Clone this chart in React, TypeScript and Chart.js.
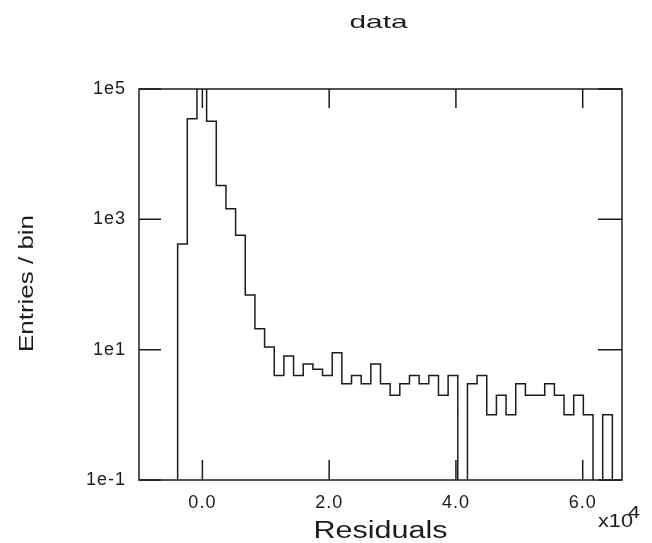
import React, { useEffect, useRef } from 'react';
import { Chart, registerables } from 'chart.js';

Chart.register(...registerables);

// ---- data ----
const X_MIN = -10000;
const X_MAX = 66200;
const counts = [
  0, 0, 0, 0, 420, 35000, 150000, 32000, 3300, 1450,
  570, 69, 21, 11, 4, 8, 4, 6, 5, 4,
  9, 3, 4, 3, 6, 3, 2, 3, 4, 3,
  4, 2, 4, 0, 3, 4, 1, 2, 1, 3,
  2, 2, 3, 2, 1, 2, 1, 0, 1, 0,
];
const xTickValues = [0, 20000, 40000, 60000];
const xTickLabels = ['0.0', '2.0', '4.0', '6.0'];
const yTickValues = [0.1, 10, 1000, 100000];
const yTickLabels = ['1e-1', '1e1', '1e3', '1e5'];
const Y_MIN = 0.1;
const Y_MAX = 100000;
const titleText = 'data';
const xTitle = 'Residuals';
const yTitle = 'Entries / bin';
const xExpBase = 'x10';
const xExpPower = '4';

const INK = '#1c1c1c';
const FONT = "'Liberation Sans', Arial, Helvetica, sans-serif";

function stretchText(
  ctx: CanvasRenderingContext2D,
  text: string,
  x: number,
  y: number,
  size: number,
  targetW: number,
  align: CanvasTextAlign,
  rotate = 0
) {
  ctx.save();
  ctx.font = `${size}px ${FONT}`;
  const w = ctx.measureText(text).width;
  const sx = targetW / w;
  ctx.translate(x, y);
  if (rotate) ctx.rotate(rotate);
  ctx.scale(sx, 1);
  ctx.textAlign = align;
  ctx.textBaseline = 'alphabetic';
  ctx.fillStyle = INK;
  ctx.fillText(text, 0, 0);
  ctx.restore();
}

const framePlugin = {
  id: 'frameTicks',
  beforeDraw(chart: any) {
    (chart.ctx as any).letterSpacing = '1px';
  },
  afterDatasetsDraw(chart: any) {
    const { ctx, chartArea: a, scales } = chart;
    ctx.save();
    ctx.strokeStyle = INK;
    ctx.lineWidth = 1.5;
    ctx.strokeRect(a.left, a.top, a.right - a.left, a.bottom - a.top);
    ctx.beginPath();
    scales.x.ticks.forEach((t: any) => {
      const px = scales.x.getPixelForValue(t.value);
      ctx.moveTo(px, a.bottom);
      ctx.lineTo(px, a.bottom - 20);
      ctx.moveTo(px, a.top);
      ctx.lineTo(px, a.top + 19);
    });
    scales.y.ticks.forEach((t: any) => {
      const py = scales.y.getPixelForValue(t.value);
      ctx.moveTo(a.left, py);
      ctx.lineTo(a.left + 22, py);
      ctx.moveTo(a.right, py);
      ctx.lineTo(a.right - 24, py);
    });
    ctx.stroke();
    ctx.restore();
  },
  afterDraw(chart: any) {
    const ctx = chart.ctx as CanvasRenderingContext2D;
    (ctx as any).letterSpacing = '0px';
    const a = chart.chartArea;
    const cx = (a.left + a.right) / 2;
    stretchText(ctx, titleText, cx - 2, 28.3, 18.5, 58, 'center');
    stretchText(ctx, xTitle, cx, 538.3, 23, 134, 'center');
    stretchText(ctx, yTitle, 33.3, (a.top + a.bottom) / 2 - 1, 21, 137, 'center', -Math.PI / 2);
    stretchText(ctx, xExpBase, 598, 526.7, 18, 35, 'left');
    stretchText(ctx, xExpPower, 628, 517.7, 17, 12, 'left');
  },
};

export default function App() {
  const ref = useRef<HTMLCanvasElement>(null);

  useEffect(() => {
    if (!ref.current) return;
    const binW = (X_MAX - X_MIN) / counts.length;
    const floor = Y_MIN / 100;
    const points = counts.map((c, i) => ({ x: X_MIN + i * binW, y: c > 0 ? c : floor }));
    const last = counts[counts.length - 1];
    points.push({ x: X_MAX, y: last > 0 ? last : floor });

    const tickFont = { family: FONT, size: 18 };

    const chart = new Chart(ref.current, {
      type: 'line',
      data: {
        datasets: [
          {
            data: points,
            stepped: 'before',
            borderColor: INK,
            borderWidth: 1.5,
            pointRadius: 0,
            fill: false,
          },
        ],
      },
      options: {
        animation: false,
        responsive: false,
        events: [],
        layout: { padding: { left: 0, top: 89, right: 30, bottom: 0 } },
        plugins: {
          legend: { display: false },
          tooltip: { enabled: false },
          title: { display: false },
        },
        scales: {
          x: {
            type: 'linear',
            min: X_MIN,
            max: X_MAX,
            grid: { display: false, drawTicks: false },
            border: { display: false },
            afterBuildTicks: (s: any) => {
              s.ticks = xTickValues.map((v) => ({ value: v }));
            },
            afterFit: (s: any) => {
              s.height = 63;
            },
            ticks: {
              autoSkip: false,
              maxRotation: 0,
              padding: 12,
              color: INK,
              font: tickFont,
              callback: (v: any) => xTickLabels[xTickValues.indexOf(Number(v))] ?? '',
            },
          },
          y: {
            type: 'logarithmic',
            min: Y_MIN,
            max: Y_MAX,
            grid: { display: false, drawTicks: false },
            border: { display: false },
            afterBuildTicks: (s: any) => {
              s.ticks = yTickValues.map((v) => ({ value: v }));
            },
            afterFit: (s: any) => {
              s.width = 139;
            },
            ticks: {
              autoSkip: false,
              padding: 13,
              color: INK,
              font: tickFont,
              callback: (_v: any, i: number) => yTickLabels[i] ?? '',
            },
          },
        },
      },
      plugins: [framePlugin],
    } as any);

    return () => chart.destroy();
  }, []);

  return (
    <div style={{ position: 'absolute', left: 0, top: 0, width: 652, height: 543, background: '#fff' }}>
      <canvas ref={ref} width={652} height={543} />
    </div>
  );
}
